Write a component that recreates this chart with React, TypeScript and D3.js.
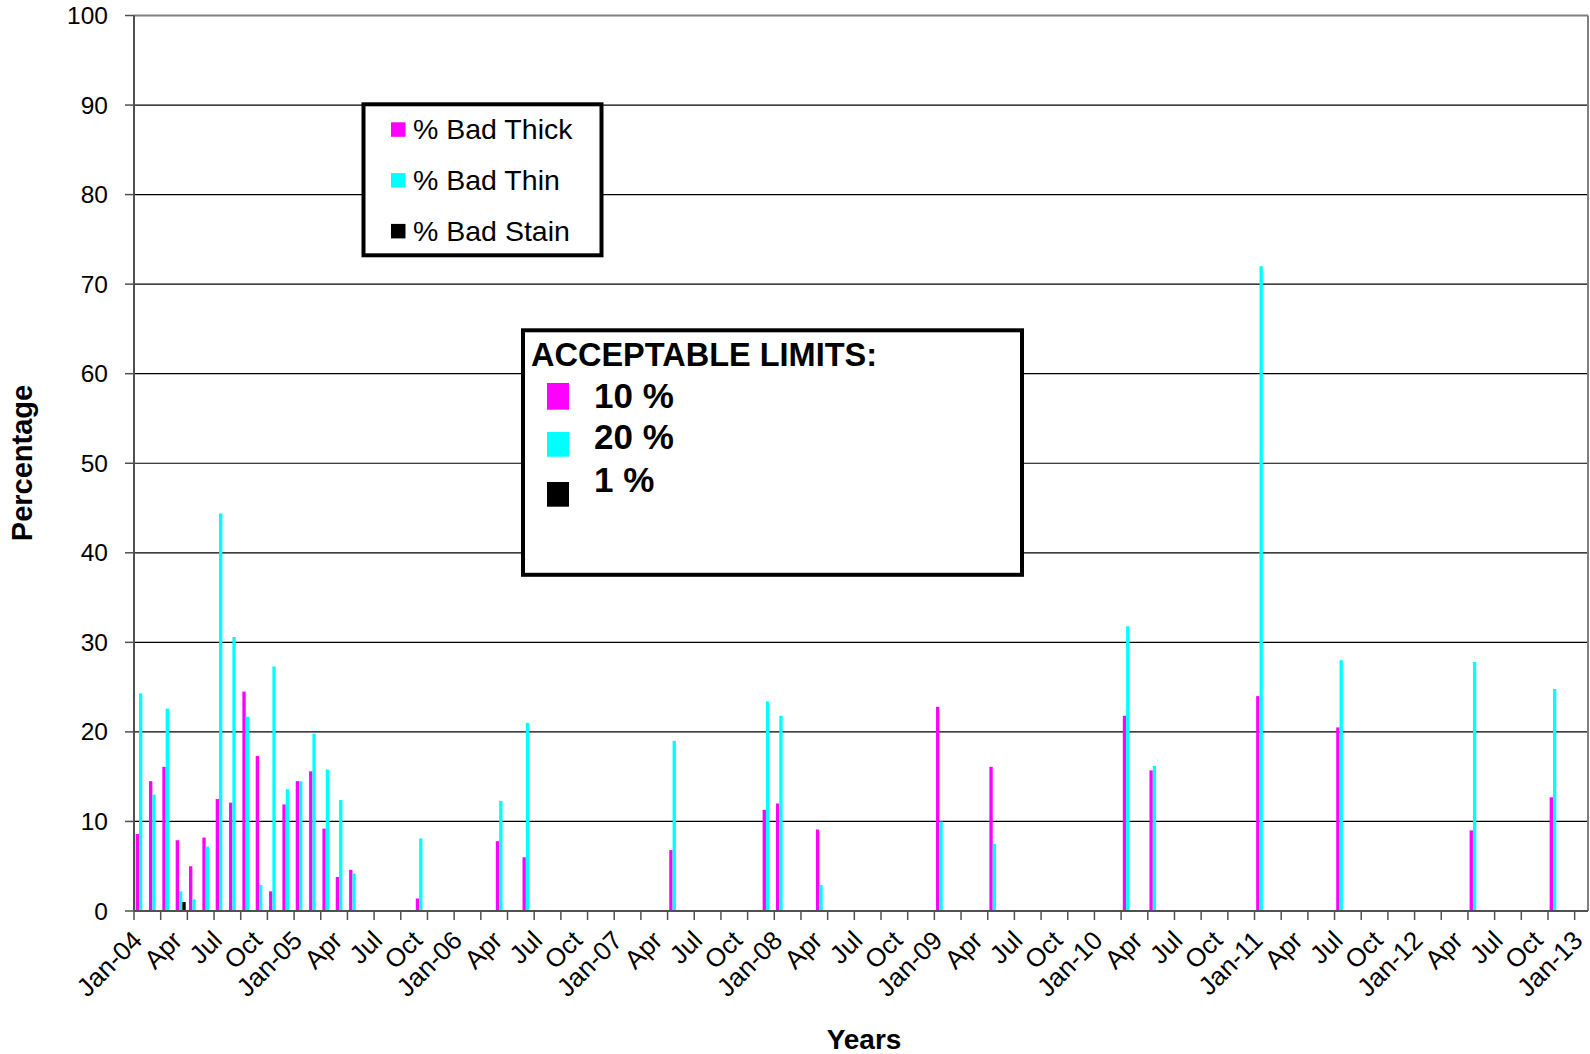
import React from "react";
import * as d3 from "d3";

// ---- data ----
const START = "2004-01";
const END = "2013-01";

const dataMonths = [
  "2004-01", "2004-02", "2004-03", "2004-04", "2004-05", "2004-06", "2004-07", "2004-08", "2004-09",
  "2004-10", "2004-11", "2004-12", "2005-01", "2005-02", "2005-03", "2005-04", "2005-05",
  "2005-10", "2006-04", "2006-06", "2007-05", "2007-12", "2008-01", "2008-04", "2009-01",
  "2009-05", "2010-03", "2010-05", "2011-01", "2011-07", "2012-05", "2012-11",
];
const badThick = [
  8.6, 14.5, 16.1, 7.9, 5.0, 8.2, 12.5, 12.1, 24.5, 17.3, 2.2, 11.9, 14.5, 15.6, 9.2, 3.8, 4.6,
  1.4, 7.8, 6.0, 6.8, 11.3, 12.0, 9.1, 22.8, 16.1, 21.8, 15.7, 24.0, 20.5, 9.0, 12.7,
];
const badThin = [
  24.3, 13.0, 22.6, 2.2, 1.3, 7.2, 44.4, 30.6, 21.7, 2.9, 27.3, 13.6, 14.5, 19.8, 15.8, 12.4, 4.2,
  8.1, 12.3, 21.0, 19.0, 23.4, 21.8, 2.9, 10.0, 7.5, 31.8, 16.2, 72.0, 28.0, 27.8, 24.8,
];
const badStain = [
  0, 0, 0, 1.0, 0, 0, 0, 0, 0, 0, 0, 0, 0, 0, 0, 0, 0,
  0, 0, 0, 0, 0, 0, 0, 0, 0, 0, 0, 0, 0, 0, 0,
];

const seriesNames = ["% Bad Thick", "% Bad Thin", "% Bad Stain"];
const seriesColors = ["#FF00FF", "#00FFFF", "#000000"];
const limitLabels = ["10 %", "20 %", "1 %"];

const yTicks = [0, 10, 20, 30, 40, 50, 60, 70, 80, 90, 100];
const xTickLabels = [
  "Jan-04", "Apr", "Jul", "Oct", "Jan-05", "Apr", "Jul", "Oct", "Jan-06", "Apr", "Jul", "Oct",
  "Jan-07", "Apr", "Jul", "Oct", "Jan-08", "Apr", "Jul", "Oct", "Jan-09", "Apr", "Jul", "Oct",
  "Jan-10", "Apr", "Jul", "Oct", "Jan-11", "Apr", "Jul", "Oct", "Jan-12", "Apr", "Jul", "Oct",
  "Jan-13",
];

const FONT = "'Liberation Sans', Arial, sans-serif";

export default function App() {
  const W = 1590, H = 1054;
  const left = 134, right = 1588, top = 15.5, bottom = 911;

  const parse = d3.timeParse("%Y-%m");
  const fmt = d3.timeFormat("%Y-%m");
  const months = d3.timeMonth
    .range(parse(START)!, d3.timeMonth.offset(parse(END)!, 1))
    .map((d) => fmt(d));

  const x = d3.scaleBand<string>().domain(months).range([left, right]).padding(0);
  const step = x.bandwidth();
  const inner = d3
    .scaleBand<number>()
    .domain([0, 1, 2])
    .range([0, step])
    .paddingInner(0)
    .paddingOuter(0.5);
  const y = d3.scaleLinear().domain([0, 100]).range([bottom, top]);

  const series = [badThick, badThin, badStain];

  const bars: React.ReactNode[] = [];
  dataMonths.forEach((m, i) => {
    series.forEach((s, k) => {
      const v = s[i];
      if (!v) return;
      bars.push(
        <rect
          key={`${m}-${k}`}
          x={(x(m) as number) + (inner(k) as number)}
          y={y(v)}
          width={inner.bandwidth()}
          height={y(0) - y(v)}
          fill={seriesColors[k]}
        />
      );
    });
  });

  // tick marks every 2 months at slot boundaries
  const tickMarks: number[] = [];
  for (let i = 0; i <= months.length - 1; i += 2) tickMarks.push(left + i * step);

  // labels every 3 months at slot centers
  const labelPos = xTickLabels.map((lab, j) => {
    const m = months[j * 3];
    return { lab, cx: (x(m) as number) + step / 2 };
  });

  return (
    <svg
      width={W}
      height={H}
      style={{ position: "absolute", left: 0, top: 0, background: "#fff" }}
      fontFamily={FONT}
    >
      <rect x={0} y={0} width={W} height={H} fill="#fff" />
      {/* gridlines */}
      {yTicks.slice(1, -1).map((t) => (
        <line key={t} x1={left} x2={right} y1={y(t)} y2={y(t)} stroke="#000" strokeWidth={1.2} />
      ))}
      {/* plot border */}
      <line x1={left} x2={right} y1={top} y2={top} stroke="#808080" strokeWidth={2} />
      <line x1={right} x2={right} y1={top} y2={bottom} stroke="#808080" strokeWidth={2} />

      {bars}

      {/* y axis */}
      <line x1={left} x2={left} y1={top} y2={bottom} stroke="#505050" strokeWidth={2} />
      {yTicks.map((t) => (
        <g key={t}>
          <line x1={left - 9} x2={left} y1={y(t)} y2={y(t)} stroke="#505050" strokeWidth={1.5} />
          <text x={108} y={y(t)} dy="0.35em" textAnchor="end" fontSize={24.5} fill="#000">
            {t}
          </text>
        </g>
      ))}

      {/* x axis */}
      <line x1={left} x2={right} y1={bottom} y2={bottom} stroke="#505050" strokeWidth={2} />
      {tickMarks.map((tx, i) => (
        <line key={i} x1={tx} x2={tx} y1={bottom} y2={bottom + 9} stroke="#505050" strokeWidth={1.5} />
      ))}
      {labelPos.map((p, i) => (
        <text
          key={i}
          transform={`translate(${p.cx + 3},${bottom + 31}) rotate(-45)`}
          textAnchor="end"
          fontSize={26}
          fill="#000"
        >
          {p.lab}
        </text>
      ))}

      {/* axis titles */}
      <text x={864} y={1049} textAnchor="middle" fontSize={28} fontWeight="bold">
        Years
      </text>
      <text
        transform={`translate(32,463) rotate(-90)`}
        textAnchor="middle"
        fontSize={29}
        fontWeight="bold"
      >
        Percentage
      </text>

      {/* series legend */}
      <rect x={363.5} y={104.3} width={238} height={151} fill="#fff" stroke="#000" strokeWidth={4} />
      {seriesNames.map((n, i) => (
        <g key={n}>
          <rect x={391} y={122.3 + i * 50.8} width={14.5} height={14.5} fill={seriesColors[i]} />
          <text x={413} y={139 + i * 50.8} fontSize={28.5} fill="#000">
            {n}
          </text>
        </g>
      ))}

      {/* acceptable limits box */}
      <rect x={523} y={330.3} width={499} height={244.5} fill="#fff" stroke="#000" strokeWidth={4} />
      <text x={531} y={366} fontSize={32.5} fontWeight="bold">
        ACCEPTABLE LIMITS:
      </text>
      {limitLabels.map((l, i) => (
        <g key={l}>
          <rect
            x={547}
            y={[383, 432, 482][i]}
            width={22}
            height={[26.7, 24.7, 24.7][i]}
            fill={seriesColors[i]}
          />
          <text x={594} y={[408.3, 449.3, 491.7][i]} fontSize={35} fontWeight="bold">
            {l}
          </text>
        </g>
      ))}
    </svg>
  );
}
